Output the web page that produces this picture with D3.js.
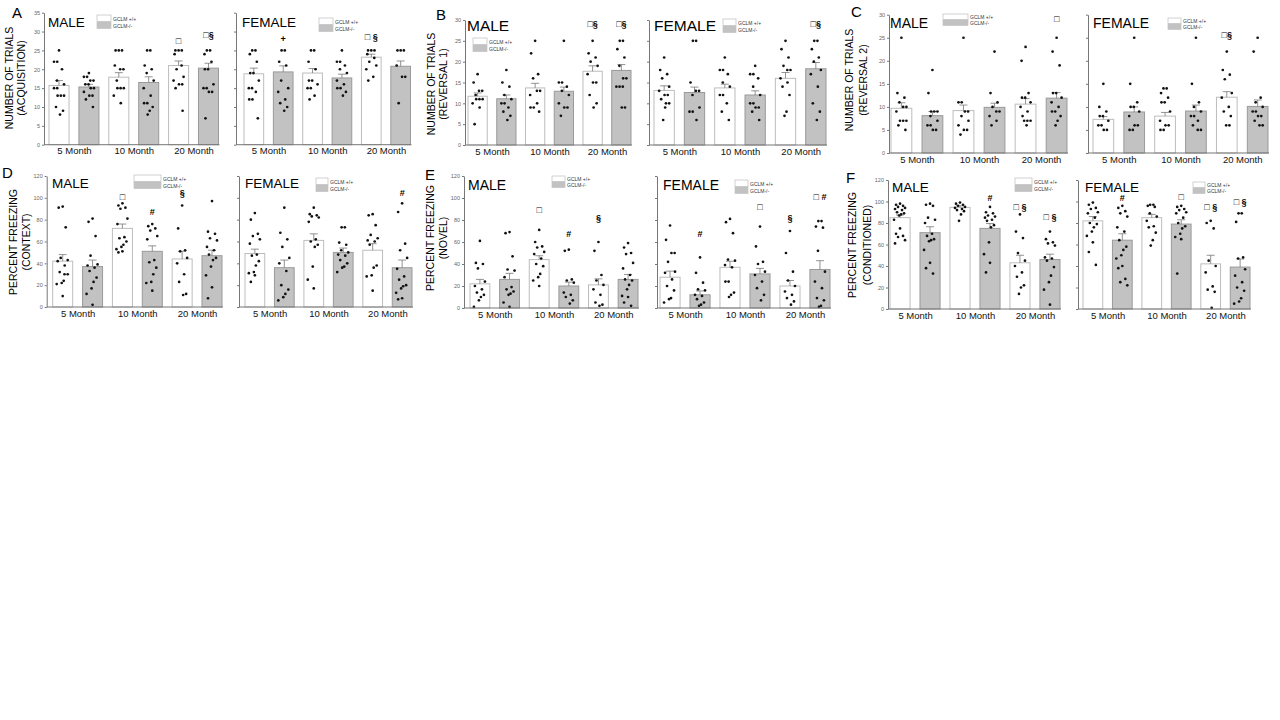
<!DOCTYPE html>
<html>
<head>
<meta charset="utf-8">
<script src="https://cdn.jsdelivr.net/npm/d3@7"></script>
<style>
body { margin: 0; background: #fff; }
svg { font-family: "Liberation Sans", Arial, sans-serif; }
</style>
</head>
<body>
<svg id="fig" width="1280" height="720"></svg>
<script>
/* bar order in every array: 5 Month +/+, 5 Month -/-, 10 Month +/+, 10 Month -/-, 20 Month +/+, 20 Month -/- */
var months = ["5 Month", "10 Month", "20 Month"];
var genotypes = ["GCLM +/+", "GCLM-/-"];

// A - acquisition
var aMaleMean = [15.7, 15.3, 17.9, 16.5, 21.0, 20.3];
var aMaleSem = [1.3, 0.7, 1.2, 1.5, 1.2, 1.3];
var aMaleDots = [[25,22,22,20,17,16,15,15,13,13,13,10,9,8], [19,18,18,17,17,16,16,15,15,14,13,13,12,10],
    [25,25,25,21,20,20,17,15,15,15,13,11], [25,25,21,20,19,17,15,13,11,11,10,9,8],
    [25,25,25,24,21,20,18,17,16,16,15,9], [25,25,24,22,20,20,16,15,15,14,14,7]];
var aMaleSig = ["", "", "", "", "□", "□§"];
var aMaleSigAt = [0, 0, 0, 0, 27.5, 29];
var aFemaleMean = [18.8, 19.3, 19.0, 17.7, 23.2, 20.8];
var aFemaleSem = [1.5, 1.6, 1.2, 1.0, 0.8, 1.4];
var aFemaleDots = [[25,25,24,22,19,19,17,15,15,14,12,12,7], [25,25,22,21,17,15,14,12,11,10,9],
    [25,25,22,20,17,17,16,15,15,13,12], [25,22,22,21,20,19,17,16,15,15,14,13],
    [25,25,25,24,23,22,21,20,18,17], [25,25,25,21,18,18,11]];
var aFemaleSig = ["", "+", "", "", "□ §", ""];
var aFemaleSigAt = [0, 28, 0, 0, 28.5, 0];

// B - reversal 1
var bMaleMean = [11.7, 11.1, 13.7, 12.9, 17.7, 17.9];
var bMaleSem = [0.8, 0.9, 1.1, 1.0, 1.3, 1.4];
var bMaleDots = [[17,15,13,13,12,11,11,11,10,9,5], [18,15,14,12,11,10,10,9,8,7,6],
    [25,22,17,16,13,13,12,10,9,9,8], [25,15,15,14,13,12,10,9,9,7],
    [25,22,21,20,19,17,15,15,12,10,9], [25,25,23,21,19,16,16,14,14,14,9,9]];
var bMaleSig = ["", "", "", "", "□§", "□§"];
var bMaleSigAt = [0, 0, 0, 0, 29, 29];
var bFemaleMean = [13.1, 12.6, 13.7, 12.0, 16.0, 18.3];
var bFemaleSem = [1.1, 1.3, 0.9, 1.0, 1.4, 1.5];
var bFemaleDots = [[21,18,17,16,14,13,12,12,11,10,10,9,6], [25,25,15,13,13,12,9,8,8,6],
    [21,18,18,17,15,14,12,12,10,8,6], [19,17,17,16,14,12,10,10,9,9,8,6],
    [25,23,21,19,18,18,16,15,14,12,8,7], [25,25,23,21,20,18,17,14,10,8,6]];
var bFemaleSig = ["", "", "", "", "", "□§"];
var bFemaleSigAt = [0, 0, 0, 0, 0, 29];

// C - reversal 2
var cMaleMean = [9.7, 8.1, 9.2, 9.9, 10.6, 11.9];
var cMaleSem = [1.2, 0.9, 1.2, 0.9, 1.2, 1.2];
var cMaleDots = [[25,13,12,11,10,10,9,7,7,7,6,5], [18,13,9,9,9,8,7,6,6,5,5],
    [25,11,11,9,9,8,7,6,5,5,4], [22,13,11,10,9,9,8,7,6],
    [23,20,13,12,12,11,10,9,8,7,7,7,6], [25,22,19,13,13,12,11,10,9,9,8,7,6]];
var cMaleSig = ["", "", "", "", "", "□"];
var cMaleSigAt = [0, 0, 0, 0, 0, 29];
var cFemaleMean = [7.3, 8.9, 8.0, 9.1, 12.1, 10.1];
var cFemaleSem = [0.6, 1.1, 0.8, 1.3, 1.2, 1.4];
var cFemaleDots = [[15,10,9,8,8,7,6,6,5,5], [25,15,11,10,10,9,8,6,6,5,5],
    [14,14,13,12,11,11,9,7,6,6,5,5], [25,15,11,10,9,8,8,7,6,5,5],
    [22,18,17,16,13,12,10,9,8,6,6], [25,22,12,11,10,9,9,8,8,7,6,6]];
var cFemaleSig = ["", "", "", "", "□§", ""];
var cFemaleSigAt = [0, 0, 0, 0, 25.5, 0];

// D - context
var dMaleMean = [42, 37, 72, 51, 44, 47];
var dMaleSem = [6, 6, 4, 5, 7, 5];
var dMaleDots = [[92,91,73,45,43,42,38,32,30,30,24,22,21,10], [81,78,65,47,39,38,36,33,27,23,17,12,2],
    [95,93,91,90,81,76,64,63,60,57,55,53,51,50], [76,74,72,70,65,62,43,41,36,30,23,22,15],
    [93,72,52,51,45,40,30,23,12,11], [97,69,67,63,61,55,52,48,45,43,37,29,18,8]];
var dMaleSig = ["", "", "□", "#", "§", ""];
var dMaleSigAt = [0, 0, 101, 87, 104, 0];
var dFemaleMean = [49, 36, 61, 50, 52, 36];
var dFemaleSem = [4, 7, 6, 4, 6, 7];
var dFemaleDots = [[86,80,67,65,62,58,48,47,42,38,32,31,29,23], [91,68,62,55,45,40,33,20,16,12,9,6],
    [91,85,84,83,82,78,62,60,57,55,37,25,17], [73,73,59,57,52,50,48,47,43,40,37,36,32],
    [85,84,75,66,63,61,60,57,38,36,29,28,15], [95,87,58,52,45,35,28,25,20,19,17,13,8,7]];
var dFemaleSig = ["", "", "", "", "", "#"];
var dFemaleSigAt = [0, 0, 0, 0, 0, 104];

// E - novel
var eMaleMean = [22, 26, 44, 20, 21, 26];
var eMaleSem = [4, 5.5, 3.5, 3.5, 5.5, 4.5];
var eMaleDots = [[61,41,40,36,24,20,17,14,12,10,7,1], [69,68,47,35,34,28,19,17,15,13,12,5,1],
    [71,60,56,55,51,49,45,40,38,31,28,25,20], [53,52,26,25,23,14,12,10,7,4],
    [60,52,30,25,21,17,12,5,3,2], [59,55,50,49,41,36,30,26,25,21,17,11,10,5,2]];
var eMaleSig = ["", "", "□", "#", "§", ""];
var eMaleSigAt = [0, 0, 89, 67, 82, 0];
var eFemaleMean = [28, 12, 37, 31, 20, 35];
var eFemaleSem = [5.5, 3.5, 5.5, 5, 5, 8];
var eFemaleDots = [[75,62,50,50,42,33,32,26,20,16,9,8,5], [46,32,23,17,16,12,11,8,5,3,2],
    [81,78,68,44,43,39,37,24,24,14,12,10], [74,56,42,40,33,30,24,18,12,7],
    [70,50,33,25,20,15,12,9,6,3], [79,79,74,73,52,33,24,18,9,7,2,1]];
var eFemaleSig = ["", "#", "", "□", "§", "□ #"];
var eFemaleSigAt = [0, 67, 0, 92, 82, 101];

// F - conditioned
var fMaleMean = [85, 71, 94.5, 75, 43, 46];
var fMaleSem = [2.5, 5.5, 1.5, 4.5, 7, 5];
var fMaleDots = [[98,97,96,95,94,93,92,90,89,88,87,83,75,70,68,67,64,61], [98,97,96,85,83,80,70,68,65,64,63,55,43,38,33],
    [99,98,97,96,95,94,93,92,91,88,82], [95,90,89,87,86,85,83,82,78,76,62,51,43,34],
    [88,72,66,52,45,40,34,30,22,20,14], [72,65,62,61,59,48,47,45,39,31,25,18,4]];
var fMaleSig = ["", "", "", "#", "□ §", "□ §"];
var fMaleSigAt = [0, 0, 0, 103, 95, 86];
var fFemaleMean = [82, 64, 85, 79, 42, 39];
var fFemaleSem = [4, 6, 3, 4, 8, 7.5];
var fFemaleDots = [[99,97,94,93,90,89,85,80,79,76,72,68,62,53,41], [96,94,91,89,86,76,72,64,58,55,50,47,40,38,28,25,22],
    [97,97,96,95,89,86,82,77,76,71,64,59], [96,95,93,92,90,89,85,80,77,75,70,67,65,33],
    [82,80,75,45,40,34,21,18,16,1], [89,89,81,48,47,37,31,25,20,17,10,7,5]];
var fFemaleSig = ["", "#", "", "□", "□ §", "□ §"];
var fFemaleSigAt = [0, 103, 0, 104, 95, 100];

/* layout of the six panels */
var panels = [
    {letter: "A", lx: 12, ly: 18, yMax: 35, step: 5, top: 12.7, bottom: 144.7, titleSize: 13.5,
        ytitle: ["NUMBER OF TRIALS", "(ACQUISITION)"], yt: [8.5, 20.5], ytc: 78,
        subs: [
            {name: "MALE", x0: 44, x1: 218.5, inset: 5, tx: 48, ty: 27, leg: [97, 15, 14, 7], labels: true,
                mean: aMaleMean, sem: aMaleSem, dots: aMaleDots, sig: aMaleSig, sigAt: aMaleSigAt},
            {name: "FEMALE", x0: 236, x1: 410.5, inset: 8, tx: 242, ty: 27, leg: [319, 18, 14, 7], labels: false,
                mean: aFemaleMean, sem: aFemaleSem, dots: aFemaleDots, sig: aFemaleSig, sigAt: aFemaleSigAt}
        ]},
    {letter: "B", lx: 436, ly: 20, yMax: 30, step: 5, top: 20, bottom: 145, titleSize: 15.5,
        ytitle: ["NUMBER OF TRIALS", "(REVERSAL 1)"], yt: [431, 443], ytc: 84,
        subs: [
            {name: "MALE", x0: 465, x1: 631, inset: 3, tx: 467, ty: 31, leg: [473, 38, 14, 7], labels: true,
                mean: bMaleMean, sem: bMaleSem, dots: bMaleDots, sig: bMaleSig, sigAt: bMaleSigAt},
            {name: "FEMALE", x0: 649, x1: 826, inset: 5, tx: 654, ty: 31, leg: [723, 19, 13, 7], labels: false,
                mean: bFemaleMean, sem: bFemaleSem, dots: bFemaleDots, sig: bFemaleSig, sigAt: bFemaleSigAt}
        ]},
    {letter: "C", lx: 851, ly: 17, yMax: 30, step: 5, top: 14.7, bottom: 153, titleSize: 14,
        ytitle: ["NUMBER OF TRIALS", "(REVERSAL 2)"], yt: [849, 863], ytc: 80,
        subs: [
            {name: "MALE", x0: 889, x1: 1067, inset: 2, tx: 890, ty: 28, leg: [943, 14, 25, 6], labels: true,
                mean: cMaleMean, sem: cMaleSem, dots: cMaleDots, sig: cMaleSig, sigAt: cMaleSigAt},
            {name: "FEMALE", x0: 1088, x1: 1268, inset: 5, tx: 1093, ty: 28, leg: [1168, 18, 13, 6], labels: false,
                mean: cFemaleMean, sem: cFemaleSem, dots: cFemaleDots, sig: cFemaleSig, sigAt: cFemaleSigAt}
        ]},
    {letter: "D", lx: 2, ly: 178, yMax: 120, step: 20, top: 176, bottom: 307, titleSize: 13.5,
        ytitle: ["PERCENT FREEZING", "(CONTEXT)"], yt: [12.5, 25.5], ytc: 242,
        subs: [
            {name: "MALE", x0: 46.7, x1: 222, inset: 6, tx: 52, ty: 188, leg: [134, 175, 27, 7], labels: true,
                mean: dMaleMean, sem: dMaleSem, dots: dMaleDots, sig: dMaleSig, sigAt: dMaleSigAt},
            {name: "FEMALE", x0: 239, x1: 412, inset: 6, tx: 245, ty: 188, leg: [316, 178, 12, 7], labels: false,
                mean: dFemaleMean, sem: dFemaleSem, dots: dFemaleDots, sig: dFemaleSig, sigAt: dFemaleSigAt}
        ]},
    {letter: "E", lx: 425, ly: 180, yMax: 120, step: 20, top: 176, bottom: 308, titleSize: 14,
        ytitle: ["PERCENT FREEZING", "(NOVEL)"], yt: [430, 443], ytc: 238,
        subs: [
            {name: "MALE", x0: 464, x1: 638, inset: 6, tx: 468, ty: 190, leg: [552, 176, 13, 6], labels: true,
                mean: eMaleMean, sem: eMaleSem, dots: eMaleDots, sig: eMaleSig, sigAt: eMaleSigAt},
            {name: "FEMALE", x0: 657, x1: 830, inset: 3, tx: 663, ty: 190, leg: [735, 180, 13, 7], labels: false,
                mean: eFemaleMean, sem: eFemaleSem, dots: eFemaleDots, sig: eFemaleSig, sigAt: eFemaleSigAt}
        ]},
    {letter: "F", lx: 846, ly: 183, yMax: 120, step: 20, top: 180, bottom: 309, titleSize: 13.5,
        ytitle: ["PERCENT FREEZING", "(CONDITIONED)"], yt: [852, 867], ytc: 245,
        subs: [
            {name: "MALE", x0: 888, x1: 1060, inset: 2, tx: 892, ty: 192, leg: [1015, 178, 17, 7], labels: true,
                mean: fMaleMean, sem: fMaleSem, dots: fMaleDots, sig: fMaleSig, sigAt: fMaleSigAt},
            {name: "FEMALE", x0: 1078, x1: 1250, inset: 5, tx: 1085, ty: 192, leg: [1193, 182, 12, 6], labels: false,
                mean: fFemaleMean, sem: fFemaleSem, dots: fFemaleDots, sig: fFemaleSig, sigAt: fFemaleSigAt}
        ]}
];

var svg = d3.select("#fig");
var barKeys = [];
months.forEach(function (m) {
    genotypes.forEach(function (g) {
        barKeys.push(m + "|" + g);
    });
});

// horizontal spread of the dots inside a bar
var spread = [0, -4, 3, -2, 5, -5, 2, -3, 4, 1, -1, -6];

panels.forEach(function (p) {

    svg.append("text")
        .attr("x", p.lx).attr("y", p.ly)
        .style("font-size", "15px")
        .text(p.letter);

    var yt = svg.append("text")
        .attr("transform", "translate(" + 0 + "," + p.ytc + ") rotate(-90)")
        .style("font-size", "10.5px")
        .attr("text-anchor", "middle");
    p.ytitle.forEach(function (line, i) {
        yt.append("tspan")
            .attr("x", 0)
            .attr("y", p.yt[i])
            .attr("dominant-baseline", "central")
            .text(line);
    });

    var y = d3.scaleLinear().domain([0, p.yMax]).range([p.bottom, p.top]);

    p.subs.forEach(function (s) {
        var x = d3.scaleBand()
            .domain(barKeys)
            .range([s.x0 + s.inset, s.x1])
            .paddingInner(0.33)
            .paddingOuter(0);
        var bw = x.bandwidth();

        var rows = barKeys.map(function (k, i) {
            return {key: k, geno: i % 2, mean: s.mean[i], sem: s.sem[i], dots: s.dots[i], sig: s.sig[i], sigAt: s.sigAt[i]};
        });

        var g = svg.append("g");

        // y axis
        var yAxis = d3.axisLeft(y)
            .tickValues(d3.range(0, p.yMax + 0.01, p.step))
            .tickSize(2)
            .tickSizeOuter(0)
            .tickPadding(2);
        if (!s.labels) yAxis.tickFormat("");
        var ya = g.append("g")
            .attr("transform", "translate(" + s.x0 + ",0)")
            .call(yAxis);
        ya.select(".domain").attr("stroke", "#777");
        ya.selectAll(".tick line").attr("stroke", "#777");
        ya.selectAll(".tick text").style("font-size", "5.5px").attr("fill", "#666").style("font-family", "inherit");

        // bars
        g.selectAll(".bar").data(rows).enter().append("rect")
            .attr("x", function (d) { return x(d.key); })
            .attr("y", function (d) { return y(d.mean); })
            .attr("width", bw)
            .attr("height", function (d) { return p.bottom - y(d.mean); })
            .attr("fill", function (d) { return d.geno ? "#c2c2c2" : "#ffffff"; })
            .attr("stroke", function (d) { return d.geno ? "#9a9a9a" : "#bdbdbd"; })
            .attr("stroke-width", 1);

        // sem (upper whisker only)
        var eb = g.selectAll(".err").data(rows).enter().append("g").attr("stroke", "#777").attr("stroke-width", 0.8);
        eb.append("line")
            .attr("x1", function (d) { return x(d.key) + bw / 2; })
            .attr("x2", function (d) { return x(d.key) + bw / 2; })
            .attr("y1", function (d) { return y(d.mean); })
            .attr("y2", function (d) { return y(d.mean + d.sem); });
        eb.append("line")
            .attr("x1", function (d) { return x(d.key) + bw / 2 - 4; })
            .attr("x2", function (d) { return x(d.key) + bw / 2 + 4; })
            .attr("y1", function (d) { return y(d.mean + d.sem); })
            .attr("y2", function (d) { return y(d.mean + d.sem); });

        // individual animals
        rows.forEach(function (d) {
            var cx = x(d.key) + bw / 2;
            var counts = d3.rollup(d.dots, function (v) { return v.length; }, function (v) { return v; });
            var groupIdx = 0;
            counts.forEach(function (n, val) {
                var base = spread[groupIdx % spread.length];
                if (n > 1) base = Math.max(-5 + (n - 1) * 1.6, Math.min(5 - (n - 1) * 1.6, base));
                for (var j = 0; j < n; j++) {
                    g.append("circle")
                        .attr("cx", cx + base + (j - (n - 1) / 2) * 3.2)
                        .attr("cy", y(val))
                        .attr("r", 1.35)
                        .attr("fill", "#111");
                }
                groupIdx++;
            });
        });

        // significance marks
        g.selectAll(".sig").data(rows.filter(function (d) { return d.sig; })).enter().append("text")
            .attr("x", function (d) { return x(d.key) + bw / 2; })
            .attr("y", function (d) { return y(d.sigAt); })
            .attr("text-anchor", "middle")
            .attr("dominant-baseline", "central")
            .style("font-size", "9px")
            .style("font-weight", "bold")
            .attr("fill", "#000")
            .text(function (d) { return d.sig; });

        // x axis line and month labels
        g.append("line")
            .attr("x1", s.x0).attr("x2", s.x1 + 1)
            .attr("y1", p.bottom).attr("y2", p.bottom)
            .attr("stroke", "#777");
        var mx = d3.scalePoint()
            .domain(months)
            .range([x(barKeys[0]) + bw + (x(barKeys[1]) - x(barKeys[0]) - bw) / 2,
                x(barKeys[4]) + bw + (x(barKeys[5]) - x(barKeys[4]) - bw) / 2]);
        var xa = g.append("g")
            .attr("transform", "translate(0," + p.bottom + ")")
            .call(d3.axisBottom(mx).tickSize(0).tickPadding(3));
        xa.select(".domain").remove();
        xa.selectAll(".tick text").style("font-size", "9.5px").attr("fill", "#111").style("font-family", "inherit");

        // title
        g.append("text")
            .attr("x", s.tx).attr("y", s.ty)
            .style("font-size", p.titleSize + "px")
            .text(s.name);

        // legend
        var lg = g.append("g");
        genotypes.forEach(function (name, i) {
            lg.append("rect")
                .attr("x", s.leg[0]).attr("y", s.leg[1] + i * s.leg[3])
                .attr("width", s.leg[2]).attr("height", s.leg[3] - 0.5)
                .attr("fill", i ? "#c2c2c2" : "#fff")
                .attr("stroke", i ? "#c2c2c2" : "#bdbdbd")
                .attr("stroke-width", 0.7);
            lg.append("text")
                .attr("x", s.leg[0] + s.leg[2] + 2)
                .attr("y", s.leg[1] + i * s.leg[3] + s.leg[3] / 2)
                .attr("dominant-baseline", "central")
                .style("font-size", "5px")
                .attr("fill", "#333")
                .text(name);
        });
    });
});
</script>
</body>
</html>
